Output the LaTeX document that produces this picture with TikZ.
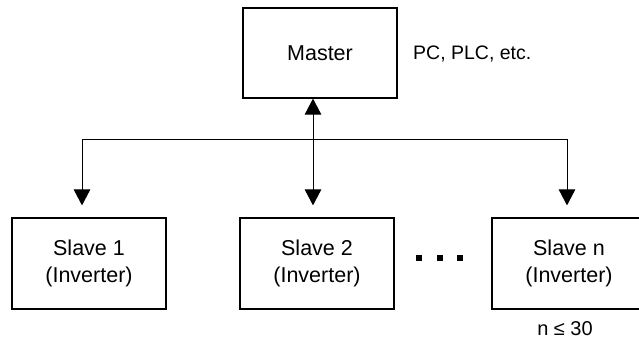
\documentclass[tikz,border=0pt]{standalone}
\usepackage{fontspec}
\setmainfont{Liberation Sans}
\usetikzlibrary{arrows.meta}
\begin{document}
\begin{tikzpicture}[x=1pt,y=-1pt,
  box/.style={draw,line width=1.2pt,minimum width=154pt,minimum height=91pt,inner sep=0pt,align=center,font=\fontsize{21.5}{27}\selectfont},
  conn/.style={line width=1pt},
  tip/.style={},
  arr/.style={conn,-{Triangle[width=16.5pt,length=16pt]},shorten >=12pt},
  darr/.style={conn,{Triangle[width=16.5pt,length=16pt]}-{Triangle[width=16.5pt,length=16pt]},shorten >=12pt},
  dot/.style={fill=black,minimum size=5.5pt,inner sep=0pt},
  lbl/.style={inner sep=0pt,font=\fontsize{20}{24}\selectfont}]
\useasboundingbox (0,0) rectangle (639,341);
\clip (0,0) rectangle (639,341);
\node[box,minimum height=90pt] (master) at (320,53) {Master};
\node[lbl,anchor=base west,font=\fontsize{19.5}{24}\selectfont] (pc) at (413,59) {PC, PLC, etc.};
\node[box] (s1) at (89,263.5) {Slave 1\\(Inverter)};
\node[box] (s2) at (317,263.5) {Slave 2\\(Inverter)};
\node[box] (sn) at (569,263.5) {Slave n\\(Inverter)};
\node[lbl,anchor=base] (nle) at (565,335) {n ≤ 30};
\node[dot] (d1) at (419,258) {};
\node[dot] (d2) at (440,258) {};
\node[dot] (d3) at (460,258) {};
\coordinate (hl) at (82,139);
\coordinate (hm) at (313,139);
\coordinate (hr) at (567,139);
\draw[conn] (hl) -- (hr);
\draw[arr] (hl) -- (hl |- s1.north);
\draw[arr] (hr) -- (hr |- sn.north);
\draw[darr] (hm |- master.south) -- (hm |- s2.north);
\end{tikzpicture}
\end{document}
